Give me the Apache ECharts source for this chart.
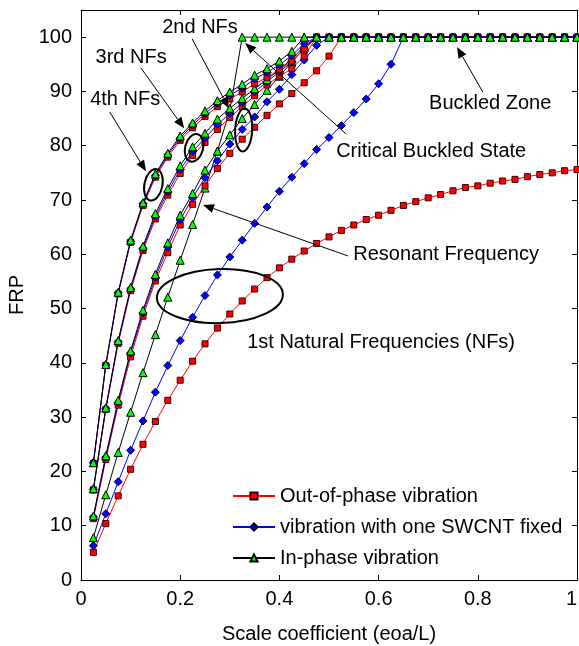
<!DOCTYPE html>
<html><head><meta charset="utf-8">
<script src="https://cdn.jsdelivr.net/npm/echarts@6/dist/echarts.min.js"></script>
<style>html,body{margin:0;padding:0;background:#fff}#c{width:579px;height:646px}</style>
</head><body><div id="c"></div>
<script>
// ---------- data ----------
const xValues = [0.025,0.05,0.075,0.1,0.125,0.15,0.175,0.2,0.225,0.25,0.275,0.3,0.325,0.35,0.375,0.4,0.425,0.45,0.475,0.5,
                 0.525,0.55,0.575,0.6,0.625,0.65,0.675,0.7,0.725,0.75,0.775,0.8,0.825,0.85,0.875,0.9,0.925,0.95,0.975,1];

// 1st natural frequencies
const outPhase1 = [5.1,10.4,15.5,20.4,25.0,29.2,33.1,36.8,40.3,43.5,46.4,49.0,51.4,53.6,55.7,57.5,59.1,60.6,62.0,63.2,
                   64.4,65.4,66.4,67.2,68.1,69.0,69.7,70.4,71.0,71.7,72.3,72.6,73.1,73.5,73.8,74.3,74.7,75.0,75.4,75.6];
const fixed1    = [6.3,12.2,18.1,23.9,29.3,34.6,39.5,44.1,48.4,52.4,56.2,59.5,62.6,65.7,68.7,71.6,74.2,76.7,79.3,81.5,
                   83.7,86.1,88.6,91.4,95.0,100,100,100,100,100,100,100,100,100,100,100,100,100,100,100];
const inPhase1  = [7.8,15.7,23.5,30.9,38.2,45.2,52.1,58.9,65.5,72.2,79.0,86.5,100,100,100,100,100,100,100,100,
                   100,100,100,100,100,100,100,100,100,100,100,100,100,100,100,100,100,100,100,100];
// 2nd natural frequencies
const outPhase2 = [11.3,22.2,32.2,41.1,48.6,55.1,60.3,65.4,69.2,72.6,75.8,78.6,81.2,83.4,85.6,87.7,89.6,91.6,93.8,96.5,
                   100,100,100,100,100,100,100,100,100,100,100,100,100,100,100,100,100,100,100,100];
const fixed2    = [11.6,22.6,32.7,41.8,49.2,55.7,61.3,66.3,70.4,74.1,77.2,80.3,83.0,85.3,88.1,90.4,93.1,95.8,98.5,100,
                   100,100,100,100,100,100,100,100,100,100,100,100,100,100,100,100,100,100,100,100];
const inPhase2  = [11.8,22.9,33.1,42.2,49.7,56.3,62.1,67.2,71.2,75.5,79.0,82.0,85.0,87.6,90.2,92.8,95.4,98.0,100,100,
                   100,100,100,100,100,100,100,100,100,100,100,100,100,100,100,100,100,100,100,100];
// 3rd natural frequencies
const outPhase3 = [16.6,31.4,43.6,53.3,60.7,66.5,70.9,74.9,78.2,80.6,83.0,85.2,87.2,89.2,91.2,92.8,94.2,96.5,100,100,
                   100,100,100,100,100,100,100,100,100,100,100,100,100,100,100,100,100,100,100,100];
const fixed3    = [16.7,31.6,43.9,53.6,61.1,67.0,71.5,75.6,78.9,81.4,83.9,85.9,87.9,89.9,91.8,93.6,95.5,97.8,100,100,
                   100,100,100,100,100,100,100,100,100,100,100,100,100,100,100,100,100,100,100,100];
const inPhase3  = [16.8,31.7,44.1,53.9,61.5,67.5,72.1,76.3,79.8,82.3,84.9,86.9,88.7,90.5,92.2,94.0,96.0,98.3,100,100,
                   100,100,100,100,100,100,100,100,100,100,100,100,100,100,100,100,100,100,100,100];
// 4th natural frequencies
const outPhase4 = [21.5,39.5,52.7,62.2,69.0,74.2,77.9,81.0,83.3,85.4,87.2,88.6,89.9,91.4,92.6,94.0,95.6,97.8,100,100,
                   100,100,100,100,100,100,100,100,100,100,100,100,100,100,100,100,100,100,100,100];
const fixed4    = [21.6,39.6,52.9,62.4,69.3,74.5,78.3,81.4,83.8,85.9,87.8,89.3,90.6,92.3,93.5,94.9,96.6,98.8,100,100,
                   100,100,100,100,100,100,100,100,100,100,100,100,100,100,100,100,100,100,100,100];
const inPhase4  = [21.6,39.7,53.0,62.6,69.5,74.8,78.6,81.8,84.2,86.4,88.3,89.9,91.3,93.0,94.2,95.6,97.4,100,100,100,
                   100,100,100,100,100,100,100,100,100,100,100,100,100,100,100,100,100,100,100,100];

const legendNames = ['Out-of-phase vibration','vibration with one SWCNT fixed','In-phase vibration'];
const xTicks = [0,0.2,0.4,0.6,0.8,1];
const yTicks = [0,10,20,30,40,50,60,70,80,90,100];

// annotations (data coordinates)
const annoTexts = [
  {text:'2nd NFs', at:[0.240,101.7]},
  {text:'3rd NFs', at:[0.101,96.3]},
  {text:'4th NFs', at:[0.089,88.6]},
  {text:'Critical Buckled State', at:[0.706,79.0]},
  {text:'Buckled Zone', at:[0.825,87.8]},
  {text:'Resonant Frequency', at:[0.736,59.9]},
  {text:'1st Natural Frequencies (NFs)', at:[0.605,43.7]}
];
const annoArrows = [
  {from:[0.224,99.7], to:[0.298,86.9]},
  {from:[0.121,94.3], to:[0.208,83.2]},
  {from:[0.058,86.2], to:[0.131,75.3]},
  {from:[0.534,82.2], to:[0.331,98.9]},
  {from:[0.810,89.9], to:[0.758,98.2]},
  {from:[0.538,59.7], to:[0.246,69.1]}
];
const annoEllipses = [
  {at:[0.146,72.8], rx:9, ry:16, rot:-0.2},
  {at:[0.228,79.6], rx:9, ry:14, rot:-0.25},
  {at:[0.328,82.9], rx:8.5, ry:21.5, rot:-0.05},
  {at:[0.280,52.3], rx:63, ry:27, rot:0.03}
];

// ---------- chart ----------
const FONT = '"Liberation Sans", Arial, Helvetica, sans-serif';
const chart = echarts.init(document.getElementById('c'), null, {renderer:'canvas'});
const pairs = ys => xValues.map((x,i)=>[x, ys[i]]);

const kinds = {
  out:   {name:legendNames[0], line:'#ff0000', fill:'#ff0000', border:'#400000', symbol:'rect', size:6},
  fixed: {name:legendNames[1], line:'#0000ff', fill:'#0000ff', border:'#000030', symbol:'diamond', size:8},
  inph:  {name:legendNames[2], line:'#000000', fill:'#00ff00', border:'#000000', symbol:'triangle', size:8}
};
function mk(kind, ys){
  const k = kinds[kind];
  return {
    type:'line', name:k.name, data:pairs(ys), symbol:k.symbol, symbolSize:k.size, showSymbol:true,
    lineStyle:{color:k.line, width:1}, itemStyle:{color:k.fill, borderColor:k.border, borderWidth:1},
    emphasis:{disabled:true}, animation:false, z:2
  };
}
const series = [
  mk('out',outPhase1), mk('fixed',fixed1), mk('inph',inPhase1),
  mk('out',outPhase2), mk('fixed',fixed2), mk('inph',inPhase2),
  mk('out',outPhase3), mk('fixed',fixed3), mk('inph',inPhase3),
  mk('out',outPhase4), mk('fixed',fixed4), mk('inph',inPhase4)
];

const axisCommon = {
  axisLine:{show:true, onZero:false, lineStyle:{color:'#000', width:1}},
  axisTick:{show:true, inside:true, length:5, lineStyle:{color:'#000'}},
  splitLine:{show:false}
};
chart.setOption({
  backgroundColor:'#fff',
  animation:false,
  textStyle:{fontFamily:FONT},
  grid:{left:81, right:2, top:10, bottom:66, containLabel:false, outerBoundsMode:'none'},
  xAxis:[
    Object.assign({type:'value', min:0, max:1, interval:0.2, position:'bottom',
      name:'Scale coefficient (eoa/L)', nameLocation:'middle', nameGap:44,
      nameTextStyle:{fontSize:20, color:'#000', fontFamily:FONT},
      axisLabel:{fontSize:20, color:'#000', margin:9, fontFamily:FONT, hideOverlap:false, alignMaxLabel:'right',
        formatter:v => xTicks.some(t=>Math.abs(t-v)<1e-9) ? String(+v.toFixed(1)) : ''}}, axisCommon),
    Object.assign({type:'value', min:0, max:1, interval:0.2, position:'top', axisLabel:{show:false}}, axisCommon)
  ],
  yAxis:[
    Object.assign({type:'value', min:0, max:105, interval:10, position:'left',
      name:'FRP', nameLocation:'middle', nameGap:46, nameRotate:90,
      nameTextStyle:{fontSize:20, color:'#000', fontFamily:FONT},
      axisLabel:{fontSize:20, color:'#000', margin:9, fontFamily:FONT,
        formatter:v => yTicks.indexOf(Math.round(v))>=0 && Math.abs(v-Math.round(v))<1e-9 ? String(Math.round(v)) : ''}}, axisCommon),
    Object.assign({type:'value', min:0, max:105, interval:10, position:'right', axisLabel:{show:false}}, axisCommon)
  ],
  legend:{
    show:true, orient:'vertical', left:227, top:481, itemWidth:42, itemHeight:9, itemGap:11,
    selectedMode:false, data:legendNames,
    textStyle:{fontSize:20, color:'#000', fontFamily:FONT}
  },
  series:series
});

// annotations placed through the grid's coordinate system
function px(p){ return chart.convertToPixel({gridIndex:0}, p); }
const g = [];
annoTexts.forEach(a=>{
  const p = px(a.at);
  g.push({type:'text', silent:true, z:10, style:{text:a.text, x:p[0], y:p[1], fill:'#000',
    font:'20px '+FONT, align:'center', verticalAlign:'middle', textAlign:'center', textVerticalAlign:'middle'}});
});
annoArrows.forEach(a=>{
  const p1 = px(a.from), p2 = px(a.to);
  const dx = p2[0]-p1[0], dy = p2[1]-p1[1], L = Math.hypot(dx,dy), ux = dx/L, uy = dy/L;
  const hl = 11, hw = 4.5;
  const bx = p2[0]-ux*hl, by = p2[1]-uy*hl;
  g.push({type:'line', silent:true, z:10, shape:{x1:p1[0], y1:p1[1], x2:bx, y2:by}, style:{stroke:'#000', lineWidth:1}});
  g.push({type:'polygon', silent:true, z:10, shape:{points:[[p2[0],p2[1]],[bx-uy*hw,by+ux*hw],[bx+uy*hw,by-ux*hw]]}, style:{fill:'#000'}});
});
annoEllipses.forEach(e=>{
  const p = px(e.at);
  g.push({type:'ellipse', silent:true, z:10, x:p[0], y:p[1], rotation:e.rot,
    shape:{cx:0, cy:0, rx:e.rx, ry:e.ry}, style:{fill:null, stroke:'#000', lineWidth:2}});
});
chart.setOption({graphic:g});
</script>
</body></html>
